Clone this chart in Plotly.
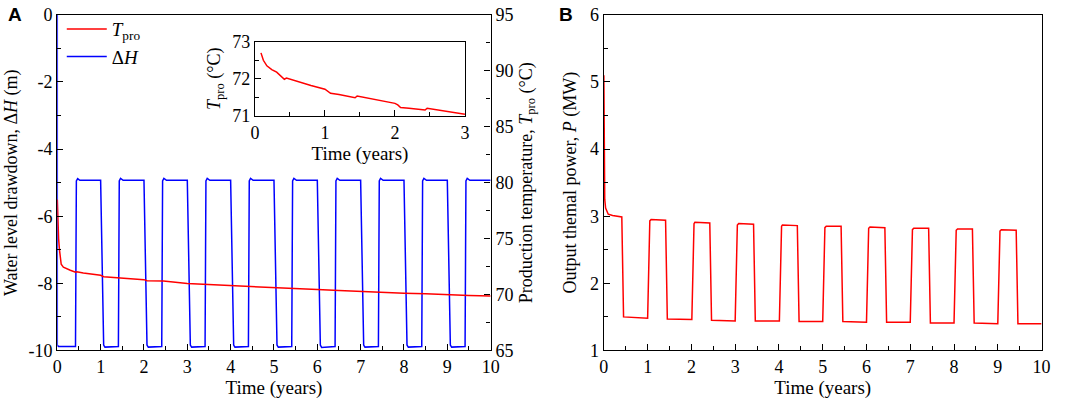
import plotly.graph_objects as go

# Panel A: water level drawdown (left axis)
dh_time = [0, 0, 0.03, 0.42, 0.44, 0.47, 0.52, 1.0, 1.07, 1.10, 1.41, 1.43, 1.46, 1.52,
           2.0, 2.07, 2.10, 2.41, 2.43, 2.46, 2.52, 3.0, 3.07, 3.10, 3.41, 3.43, 3.46, 3.52,
           4.0, 4.07, 4.10, 4.41, 4.43, 4.46, 4.52, 5.0, 5.07, 5.10, 5.41, 5.43, 5.46, 5.52,
           6.0, 6.07, 6.10, 6.41, 6.43, 6.46, 6.52, 7.0, 7.07, 7.10, 7.41, 7.43, 7.46, 7.52,
           8.0, 8.07, 8.10, 8.41, 8.43, 8.46, 8.52, 9.0, 9.07, 9.10, 9.41, 9.43, 9.46, 9.52, 10.0]
dh_value = [0, -9.85, -9.88, -9.88, -4.95, -4.88, -4.93, -4.93, -9.84, -9.90, -9.88, -4.95, -4.87, -4.93,
            -4.93, -9.84, -9.90, -9.88, -4.95, -4.87, -4.93, -4.93, -9.84, -9.90, -9.88, -4.95, -4.87, -4.93,
            -4.93, -9.84, -9.90, -9.88, -4.95, -4.87, -4.93, -4.93, -9.84, -9.90, -9.88, -4.95, -4.87, -4.93,
            -4.93, -9.84, -9.91, -9.88, -4.95, -4.87, -4.93, -4.93, -9.84, -9.90, -9.88, -4.95, -4.87, -4.93,
            -4.93, -9.84, -9.90, -9.88, -4.95, -4.87, -4.93, -4.93, -9.84, -9.90, -9.88, -4.95, -4.87, -4.93, -4.93]
dh_ticks = [-10, -8, -6, -4, -2, 0]
dh_ticktext = ["-10", "-8", "-6", "-4", "-2", "0"]

# Panel A: production temperature (right axis)
temp_time = [0, 0.01, 0.03, 0.05, 0.07, 0.09, 0.14, 0.2, 0.3, 0.42, 0.45, 0.6, 0.8, 1.0, 1.07, 1.2,
             1.42, 1.45, 1.7, 2.0, 2.07, 2.42, 2.45, 3.0, 3.5, 4.0, 4.5, 5.0, 5.5, 6.0, 6.5, 7.0,
             7.5, 8.0, 8.5, 9.0, 9.5, 10.0]
temp_value = [78.5, 76.6, 75.0, 74.0, 73.3, 72.7, 72.45, 72.32, 72.17, 72.0, 72.03, 71.92, 71.8, 71.72, 71.6, 71.56,
              71.48, 71.53, 71.44, 71.33, 71.23, 71.15, 71.2, 70.98, 70.88, 70.78, 70.7, 70.6, 70.52, 70.44, 70.36, 70.26,
              70.2, 70.12, 70.06, 69.97, 69.92, 69.88]

# Inset: production temperature, first three years
inset_time = [0.086, 0.12, 0.17, 0.24, 0.31, 0.405, 0.42, 0.45, 0.6, 0.8, 1.0, 1.04, 1.08, 1.2, 1.4,
              1.43, 1.46, 1.7, 2.0, 2.04, 2.08, 2.2, 2.4, 2.43, 2.46, 2.7, 3.0]
inset_temp = [72.70, 72.50, 72.35, 72.25, 72.18, 72.02, 71.99, 72.02, 71.93, 71.82, 71.72, 71.67, 71.61, 71.58, 71.50,
              71.49, 71.54, 71.45, 71.34, 71.30, 71.23, 71.21, 71.17, 71.16, 71.21, 71.14, 71.05]

# Panel B: output thermal power
power_time = [0, 0.005, 0.01, 0.02, 0.04, 0.07, 0.1, 0.2, 0.41, 0.45, 1.0, 1.05, 1.08, 1.41, 1.45,
              2.01, 2.06, 2.08, 2.42, 2.46, 3.0, 3.05, 3.08, 3.42, 3.46, 4.01, 4.06, 4.08, 4.42, 4.46,
              5.0, 5.05, 5.08, 5.42, 5.46, 6.0, 6.05, 6.08, 6.42, 6.46, 7.0, 7.05, 7.08, 7.42, 7.46,
              8.0, 8.05, 8.08, 8.42, 8.46, 9.0, 9.05, 9.08, 9.42, 9.46, 10.0]
power_value = [5.1, 4.3, 3.6, 3.25, 3.12, 3.06, 3.03, 3.01, 2.99, 1.50, 1.48, 2.93, 2.95, 2.94, 1.47,
               1.46, 2.89, 2.91, 2.90, 1.45, 1.44, 2.87, 2.89, 2.88, 1.44, 1.44, 2.85, 2.87, 2.86, 1.43,
               1.43, 2.83, 2.85, 2.85, 1.43, 1.42, 2.82, 2.84, 2.83, 1.42, 1.42, 2.80, 2.82, 2.82, 1.41,
               1.41, 2.79, 2.81, 2.81, 1.41, 1.40, 2.78, 2.80, 2.79, 1.40, 1.40]

serif = "Liberation Serif"
red = "#ff0000"
blue = "#0000ff"

fig = go.Figure()

fig.add_trace(go.Scatter(x=temp_time, y=temp_value, mode="lines", name="<i>T</i><sub>pro</sub>",
                         line=dict(color=red, width=1.5), xaxis="x", yaxis="y2"))
fig.add_trace(go.Scatter(x=dh_time, y=dh_value, mode="lines", name="Δ<i>H</i>",
                         line=dict(color=blue, width=1.5), xaxis="x", yaxis="y"))
fig.add_trace(go.Scatter(x=inset_time, y=inset_temp, mode="lines", showlegend=False,
                         line=dict(color=red, width=1.5), xaxis="x3", yaxis="y4"))
fig.add_trace(go.Scatter(x=power_time, y=power_value, mode="lines", showlegend=False,
                         line=dict(color=red, width=1.5), xaxis="x2", yaxis="y3"))

axis_style = dict(showline=True, linecolor="black", linewidth=1.4, ticks="inside", ticklen=6,
                  tickwidth=1.3, tickcolor="black", showgrid=False, zeroline=False, automargin=False,
                  tickfont=dict(family=serif, size=18, color="black"))


def ax(**kw):
    d = dict(axis_style)
    d.update(kw)
    return d


def minor(step):
    return dict(ticks="inside", dtick=step, ticklen=4, tickwidth=1.2, tickcolor="black")


fig.update_layout(
    width=1065, height=401,
    margin=dict(l=0, r=0, t=0, b=0),
    paper_bgcolor="white", plot_bgcolor="white",
    font=dict(family=serif, size=18, color="black"),
    xaxis=ax(domain=[0.0538, 0.4607], anchor="y", range=[0, 10], dtick=1, mirror=True,
             minor=minor(0.5),
             title=dict(text="Time (years)", standoff=0, font=dict(family=serif, size=19))),
    yaxis=ax(domain=[0.126, 0.963], anchor="x", range=[-10, 0], tickvals=dh_ticks,
             ticktext=dh_ticktext, minor=minor(1),
             title=dict(text="Water level drawdown, Δ<i>H</i> (m)", standoff=6,
                        font=dict(family=serif, size=18))),
    yaxis2=ax(overlaying="y", side="right", anchor="x", range=[65, 95], dtick=5,
              minor=minor(2.5),
              title=dict(text="Production temperature, <i>T</i><sub>pro</sub> (°C)", standoff=6,
                         font=dict(family=serif, size=18))),
    xaxis2=ax(domain=[0.567, 0.978], anchor="y3", range=[0, 10], dtick=1, mirror=True,
              minor=minor(0.5),
              title=dict(text="Time (years)", standoff=0, font=dict(family=serif, size=19))),
    yaxis3=ax(domain=[0.126, 0.963], anchor="x2", range=[1, 6], dtick=1, mirror=True,
              minor=minor(0.5),
              title=dict(text="Output themal power, <i>P</i> (MW)", standoff=8,
                         font=dict(family=serif, size=18))),
    xaxis3=ax(domain=[0.2394, 0.4366], anchor="y4", range=[0, 3], dtick=1, mirror=True,
              minor=minor(0.5),
              title=dict(text="Time (years)", standoff=0, font=dict(family=serif, size=19))),
    yaxis4=ax(domain=[0.7107, 0.896], anchor="x3", range=[71, 73], dtick=1, mirror=True,
              minor=minor(0.5),
              title=dict(text="<i>T</i><sub>pro</sub> (°C)", standoff=6,
                         font=dict(family=serif, size=18))),
    legend=dict(x=0.058, y=0.975, xanchor="left", yanchor="top", bgcolor="rgba(0,0,0,0)",
                font=dict(family=serif, size=19), tracegroupgap=0, itemwidth=40),
    annotations=[
        dict(text="<b>A</b>", x=0.006, y=0.995, xref="paper", yref="paper", xanchor="left",
             yanchor="top", showarrow=False, font=dict(family="Liberation Sans", size=19)),
        dict(text="<b>B</b>", x=0.523, y=0.995, xref="paper", yref="paper", xanchor="left",
             yanchor="top", showarrow=False, font=dict(family="Liberation Sans", size=19)),
    ],
)

# drop the page's default body margin so the figure sits at the window's corner
fig.write_html("out.html", config={"displayModeBar": False},
               post_script="document.body.style.margin='0';")
